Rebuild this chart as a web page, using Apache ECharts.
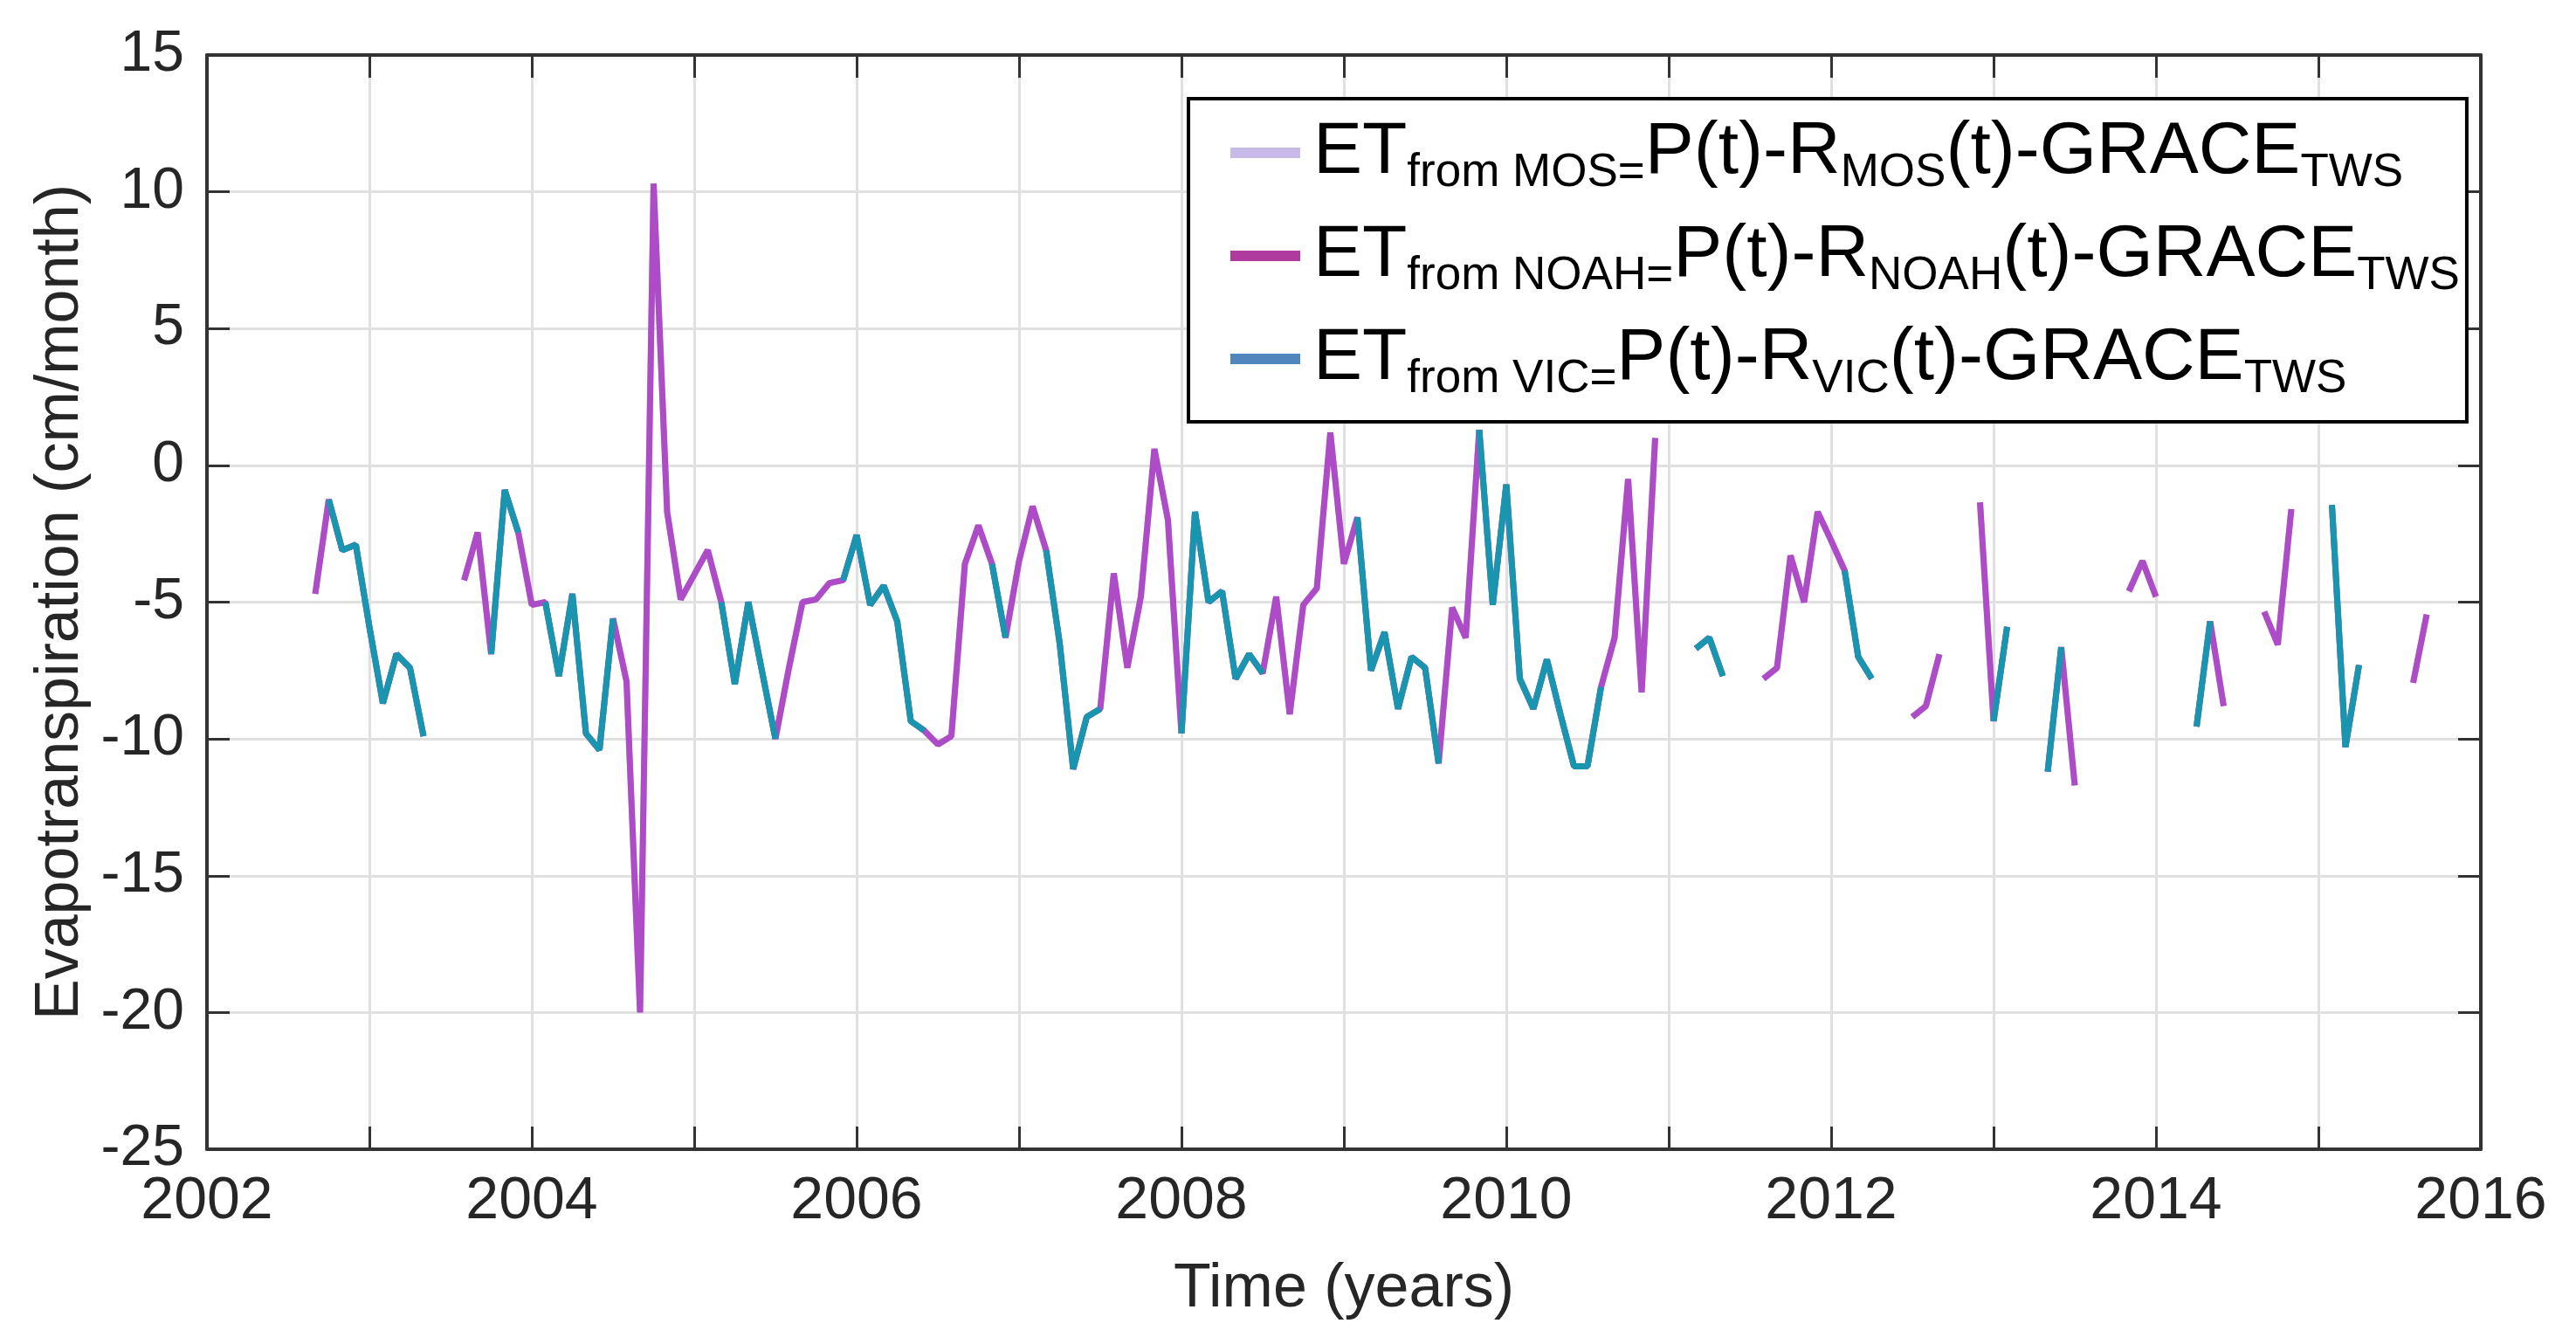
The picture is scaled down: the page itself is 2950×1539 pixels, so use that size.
<!DOCTYPE html>
<html>
<head>
<meta charset="utf-8">
<script src="https://cdn.jsdelivr.net/npm/echarts@6/dist/echarts.min.js"></script>
<style>
  html, body { margin: 0; padding: 0; background: #fff; }
  #chart { width: 2950px; height: 1539px; }
</style>
</head>
<body>
<div id="chart"></div>
<script>
// monthly samples, first one at 2002 + 8/12
var startYear = 2002
var startMonth = 8

// ET from NOAH (cm/month), null = no data
var noahValues = [
  -4.7, -1.25, -3.1, -2.9, -5.9, -8.7, -6.9, -7.4, -9.9, null, null, -4.2,
  -2.45, -6.9, -0.9, -2.45, -5.1, -5.0, -7.7, -4.7, -9.8, -10.4, -5.6, -7.9,
  -20.0, 10.3, -1.7, -4.9, -4.0, -3.1, -5.0, -8.0, -5.0, -7.5, -10.0, -7.4,
  -5.0, -4.9, -4.3, -4.2, -2.55, -5.1, -4.4, -5.7, -9.35, -9.7, -10.2, -9.9,
  -3.6, -2.2, -3.6, -6.3, -3.5, -1.5, -3.1, -6.5, -11.1, -9.2, -8.9, -3.95,
  -7.4, -4.8, 0.6, -2.0, -9.8, -1.7, -5.0, -4.6, -7.8, -6.9, -7.6, -4.8,
  -9.1, -5.1, -4.5, 1.2, -3.6, -1.9, -7.5, -6.1, -8.9, -7.0, -7.4, -10.9,
  -5.2, -6.3, 1.3, -5.1, -0.7, -7.8, -8.9, -7.1, -9.1, -11.0, -11.0, -8.1,
  -6.3, -0.5, -8.3, 1.0, null, null, -6.7, -6.3, -7.7, null, null, -7.8,
  -7.4, -3.3, -5.0, -1.7, -2.75, -3.85, -7.0, -7.8, null, null, -9.2, -8.8,
  -6.9, null, null, -1.35, -9.35, -5.9, null, null, -11.2, -6.65, -11.7, null,
  null, null, -4.6, -3.5, -4.8, null, null, -9.55, -5.7, -8.8, null, null,
  -5.35, -6.55, -1.6, null, null, -1.45, -10.3, -7.3, null, null, null, -7.95, -5.45
]

// ET from VIC, drawn on top
var vicValues = [
  null, -1.25, -3.1, -2.9, -5.9, -8.7, -6.9, -7.4, -9.9, null, null, null,
  null, -6.9, -0.9, -2.45, null, -5.0, -7.7, -4.7, -9.8, -10.4, -5.6, null,
  null, null, null, null, null, null, -5.0, -8.0, -5.0, -7.5, -10.0, null,
  null, null, null, -4.2, -2.55, -5.1, -4.4, -5.7, -9.35, -9.7, null, null,
  null, null, -3.6, -6.3, null, null, -3.1, -6.5, -11.1, -9.2, -8.9, null,
  null, null, null, null, -9.8, -1.7, -5.0, -4.6, -7.8, -6.9, -7.6, null,
  null, null, null, null, null, -1.9, -7.5, -6.1, -8.9, -7.0, -7.4, -10.9,
  null, null, 1.3, -5.1, -0.7, -7.8, -8.9, -7.1, -9.1, -11.0, -11.0, -8.1,
  null, null, null, null, null, null, -6.7, -6.3, -7.7, null, null, null,
  null, null, null, null, null, -3.85, -7.0, -7.8, null, null, null, null,
  null, null, null, null, -9.35, -5.9, null, null, -11.2, -6.65, null, null,
  null, null, null, null, null, null, null, -9.55, -5.7, null, null, null,
  null, null, null, null, null, -1.45, -10.3, -7.3, null, null, null, null, null
]

// ET from MOS sits under the other two and reads the same
var mosValues = noahValues.slice()

var seriesNames = ['ET from MOS', 'ET from NOAH', 'ET from VIC']
var modelNames = ['MOS', 'NOAH', 'VIC']
var legendColors = ['#c8bae8', '#b03b9f', '#4f86be']
var lineColors = ['#c9b6ea', '#ad4cc6', '#1a95b0']

var font = "'Liberation Sans', Arial, sans-serif"
var axisColor = '#333333'
var textColor = '#262626'

function pairs(values) {
	return values.map(function (v, i) {
		return [startYear + (startMonth + i) / 12, v]
	})
}

var myChart = echarts.init(document.getElementById('chart'))

var legendText = {}
seriesNames.forEach(function (name, i) {
	var m = modelNames[i]
	legendText[name] = '{e|ET}{s|from ' + m + '=}{m|P(t)-R}{s|' + m + '}{m|(t)-GRACE}{s|TWS}'
})

var boxAxis = {
	axisLine: { show: true, onZero: false, lineStyle: { color: axisColor, width: 4 } },
	axisTick: { show: true, inside: true, length: 26, lineStyle: { color: axisColor, width: 3 } },
	axisLabel: { show: false },
	splitLine: { show: false }
}

var option = {
	animation: false,
	backgroundColor: '#ffffff',
	grid: { left: 237, right: 109, top: 63, bottom: 223 },
	xAxis: [
		{
			type: 'value', min: 2002, max: 2016, interval: 1,
			name: 'Time (years)', nameLocation: 'middle', nameGap: 126,
			nameTextStyle: { fontFamily: font, fontSize: 70, color: textColor },
			axisLine: { onZero: false, lineStyle: { color: axisColor, width: 4 } },
			axisTick: { inside: true, length: 26, lineStyle: { color: axisColor, width: 3 } },
			axisLabel: {
				margin: 26, fontFamily: font, fontSize: 68, color: textColor,
				formatter: function (v) { return Math.round(v) % 2 === 0 ? String(Math.round(v)) : '' }
			},
			splitLine: { show: true, lineStyle: { color: '#e0e0e0', width: 3 } }
		},
		Object.assign({ type: 'value', position: 'top', min: 2002, max: 2016, interval: 1 }, boxAxis)
	],
	yAxis: [
		{
			type: 'value', min: -25, max: 15, interval: 5,
			name: 'Evapotranspiration (cm/month)', nameLocation: 'middle', nameGap: 128,
			nameTextStyle: { fontFamily: font, fontSize: 70, color: textColor },
			axisLine: { show: true, onZero: false, lineStyle: { color: axisColor, width: 4 } },
			axisTick: { show: true, inside: true, length: 26, lineStyle: { color: axisColor, width: 3 } },
			axisLabel: { margin: 26, fontFamily: font, fontSize: 66, color: textColor },
			splitLine: { show: true, lineStyle: { color: '#e0e0e0', width: 3 } }
		},
		Object.assign({ type: 'value', position: 'right', min: -25, max: 15, interval: 5 }, boxAxis)
	],
	legend: {
		orient: 'vertical',
		left: 1361, top: 113,
		padding: [20, 8, 22, 48],
		itemGap: 26,
		itemWidth: 80, itemHeight: 12,
		icon: 'rect',
		borderColor: '#000', borderWidth: 4,
		backgroundColor: '#ffffff',
		data: seriesNames.map(function (name, i) {
			return { name: name, itemStyle: { color: legendColors[i] }, lineStyle: { color: legendColors[i] } }
		}),
		formatter: function (name) { return legendText[name] },
		textStyle: {
			rich: {
				e: { fontFamily: font, fontSize: 84, lineHeight: 100, color: '#000', padding: [0, 0, 0, 10] },
				m: { fontFamily: font, fontSize: 84, lineHeight: 100, color: '#000' },
				s: { fontFamily: font, fontSize: 53, lineHeight: 40, verticalAlign: 'bottom', color: '#000' }
			}
		}
	},
	series: [mosValues, noahValues, vicValues].map(function (vals, i) {
		return {
			name: seriesNames[i],
			type: 'line',
			data: pairs(vals),
			showSymbol: false,
			connectNulls: false,
			color: lineColors[i],
			lineStyle: { color: lineColors[i], width: 7 }
		}
	})
}

myChart.setOption(option)
</script>
</body>
</html>
